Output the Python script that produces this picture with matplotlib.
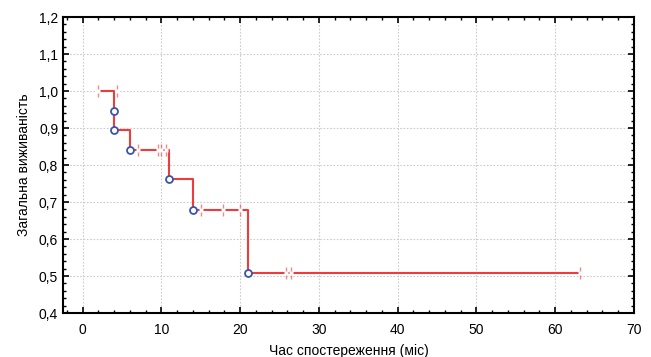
import numpy as np
import matplotlib.pyplot as plt
from matplotlib.path import Path
from matplotlib.ticker import MultipleLocator, FuncFormatter

plt.rcParams['font.family'] = ['Liberation Sans', 'DejaVu Sans']

# step points of the survival curve
step_t = [2, 4, 4, 6, 11, 14, 21, 63]
step_s = [1.0, 0.947, 0.895, 0.842, 0.763, 0.678, 0.509, 0.509]

# complete (event) observations
event_t = [4, 4, 6, 11, 14, 21]
event_s = [0.947, 0.895, 0.842, 0.763, 0.678, 0.509]

# censored observations
cens_t = [2, 4.3, 7, 9.5, 10, 10.6, 15, 17.8, 20, 25.8, 26.5, 63.2]
cens_s = [1.0, 1.0, 0.842, 0.842, 0.842, 0.842, 0.678, 0.678, 0.678, 0.509, 0.509, 0.509]

fig = plt.figure(figsize=(6.51, 3.57), dpi=100)
ax = fig.add_axes([0.0968, 0.1232, 0.877, 0.829])

red = '#ee3b3b'
blue = '#3a55a8'

ax.step(step_t, step_s, where='post', color=red, lw=1.5, zorder=3)

# broken vertical tick for censored points
cens_marker = Path([(0, 0.4), (0, 0.9), (0, -0.4), (0, -0.9)],
                   [Path.MOVETO, Path.LINETO, Path.MOVETO, Path.LINETO])
ax.plot(cens_t, cens_s, ls='none', marker='s', ms=3.5, mfc='white', mec='none', zorder=4)
ax.plot(cens_t, cens_s, ls='none', marker=cens_marker, ms=8, mec=red, mew=1.0, alpha=0.6, zorder=5)

ax.plot(event_t, event_s, ls='none', marker='o', ms=5, mfc='white', mec=blue, mew=1.3, zorder=6)

ax.set_xlim(-2.5, 70)
ax.set_ylim(0.4, 1.2)
ax.xaxis.set_major_locator(MultipleLocator(10))
ax.xaxis.set_minor_locator(MultipleLocator(2))
ax.yaxis.set_major_locator(MultipleLocator(0.1))
ax.yaxis.set_minor_locator(MultipleLocator(0.02))
ax.yaxis.set_major_formatter(FuncFormatter(lambda v, p: f'{v:.1f}'.replace('.', ',')))

ax.tick_params(which='both', direction='in', top=True, right=True, labelsize=10, color='black')
ax.tick_params(which='major', length=4, width=1.2)
ax.tick_params(which='minor', length=2.5, width=1)
ax.tick_params(axis='x', pad=7)
ax.grid(True, which='major', ls=(0, (1.5, 1.5)), color='#cccccc', lw=0.8)
for sp in ax.spines.values():
    sp.set_linewidth(1.5)

ax.set_ylabel('Загальна виживаність', fontsize=10, labelpad=6)
ax.set_xlabel('Час спостереження (міс)', fontsize=10, labelpad=5)

fig.savefig('out.png', dpi=100)
